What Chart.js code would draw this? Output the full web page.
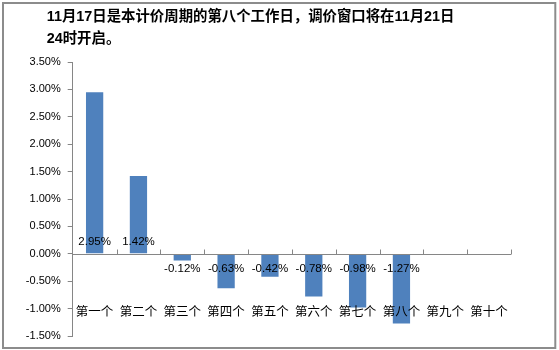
<!DOCTYPE html>
<html>
<head>
<meta charset="utf-8">
<script src="https://cdn.jsdelivr.net/npm/chart.js@4.4.1/dist/chart.umd.min.js"></script>
<style>
  html, body { margin: 0; padding: 0; background: #fff; }
  #chart-container { position: relative; width: 559px; height: 350px; }
</style>
</head>
<body>
<div id="chart-container"><canvas id="barChart"></canvas></div>
<script>
// Working-day labels and daily price change (%)
const dayLabels = ['第一个', '第二个', '第三个', '第四个', '第五个', '第六个', '第七个', '第八个', '第九个', '第十个'];
const changeValues = [2.95, 1.42, -0.12, -0.63, -0.42, -0.78, -0.98, -1.27, null, null];
const titleLines = ['11月17日是本计价周期的第八个工作日，调价窗口将在11月21日', '24时开启。'];
const yMin = -1.5;
const yMax = 3.5;
const yStep = 0.5;

const axisGray = '#868686';
const barBlue = '#4F81BD';

// Background, outer frame and the two-line heading
const framePlugin = {
  id: 'frame',
  beforeDraw(chart) {
    const ctx = chart.ctx;
    ctx.save();
    ctx.fillStyle = '#fff';
    ctx.fillRect(0, 0, chart.width, chart.height);
    ctx.restore();
  },
  afterDraw(chart) {
    const ctx = chart.ctx;
    ctx.save();
    ctx.strokeStyle = '#8c8c8c';
    ctx.lineWidth = 2;
    ctx.strokeRect(3, 3, 552.3, 345);

    ctx.fillStyle = '#000';
    ctx.font = 'bold 14.4px "Liberation Sans", "Noto Sans CJK SC", sans-serif';
    ctx.textBaseline = 'middle';
    ctx.textAlign = 'left';
    titleLines.forEach((line, i) => {
      ctx.fillText(line, 46.7, 17.5 + i * 22);
    });
    ctx.restore();
  }
};

// Category axis at zero with tick marks pointing up, between categories
const zeroAxisPlugin = {
  id: 'zeroAxis',
  afterDatasetsDraw(chart) {
    const ctx = chart.ctx;
    const y0 = Math.round(chart.scales.y.getPixelForValue(0)) + 0.5;
    ctx.save();
    ctx.strokeStyle = axisGray;
    ctx.lineWidth = 1;
    ctx.beginPath();
    ctx.moveTo(chart.chartArea.left, y0);
    ctx.lineTo(chart.chartArea.right, y0);
    const step = (chart.chartArea.right - chart.chartArea.left) / dayLabels.length;
    for (let i = 1; i <= dayLabels.length; i++) {
      const px = Math.round(chart.chartArea.left + i * step) + 0.5;
      ctx.moveTo(px, y0);
      ctx.lineTo(px, y0 - 5);
    }
    ctx.stroke();
    ctx.restore();
  }
};

// Value labels sitting at the base of each bar
const valueLabelPlugin = {
  id: 'valueLabels',
  afterDatasetsDraw(chart) {
    const ctx = chart.ctx;
    const meta = chart.getDatasetMeta(0);
    const y0 = chart.scales.y.getPixelForValue(0);
    ctx.save();
    ctx.fillStyle = '#000';
    ctx.font = '11.5px "Liberation Sans", sans-serif';
    ctx.textAlign = 'center';
    ctx.textBaseline = 'middle';
    meta.data.forEach((bar, i) => {
      const v = changeValues[i];
      if (v === null) return;
      const ty = v >= 0 ? y0 - 12.3 : y0 + 15;
      ctx.fillText(v.toFixed(2) + '%', bar.x, ty);
    });
    ctx.restore();
  }
};

const ctx = document.getElementById('barChart').getContext('2d');

const barChart = new Chart(ctx, {
  type: 'bar',
  data: {
    labels: dayLabels,
    datasets: [
      {
        data: changeValues,
        backgroundColor: barBlue,
        borderWidth: 0,
        categoryPercentage: 1,
        barPercentage: 0.394,
      },
    ],
  },
  options: {
    responsive: true,
    maintainAspectRatio: false,
    animation: false,
    layout: {
      padding: { left: 10, right: 23, top: 62, bottom: 14 },
    },
    plugins: {
      legend: { display: false },
      tooltip: { enabled: false },
      title: { display: false },
    },
    scales: {
      x: {
        position: { y: 0 },
        grid: { display: false, drawTicks: false },
        border: { display: false },
        ticks: {
          z: 1, // labels go on top of the bars
          color: '#000',
          padding: 50,
          maxRotation: 0,
          font: { family: '"Noto Sans CJK SC", sans-serif', size: 12.5 },
        },
      },
      y: {
        min: yMin,
        max: yMax,
        afterFit(scale) {
          scale.width = 62.7;
        },
        grid: {
          display: true,
          drawOnChartArea: false,
          drawTicks: true,
          tickLength: 5,
          color: axisGray,
        },
        border: { display: true, color: axisGray, width: 1 },
        ticks: {
          stepSize: yStep,
          color: '#000',
          padding: 7,
          font: { family: '"Liberation Sans", sans-serif', size: 11 },
          callback: function(value) {
            return value.toFixed(2) + '%';
          },
        },
      },
    },
  },
  plugins: [framePlugin, zeroAxisPlugin, valueLabelPlugin],
});
</script>
</body>
</html>
